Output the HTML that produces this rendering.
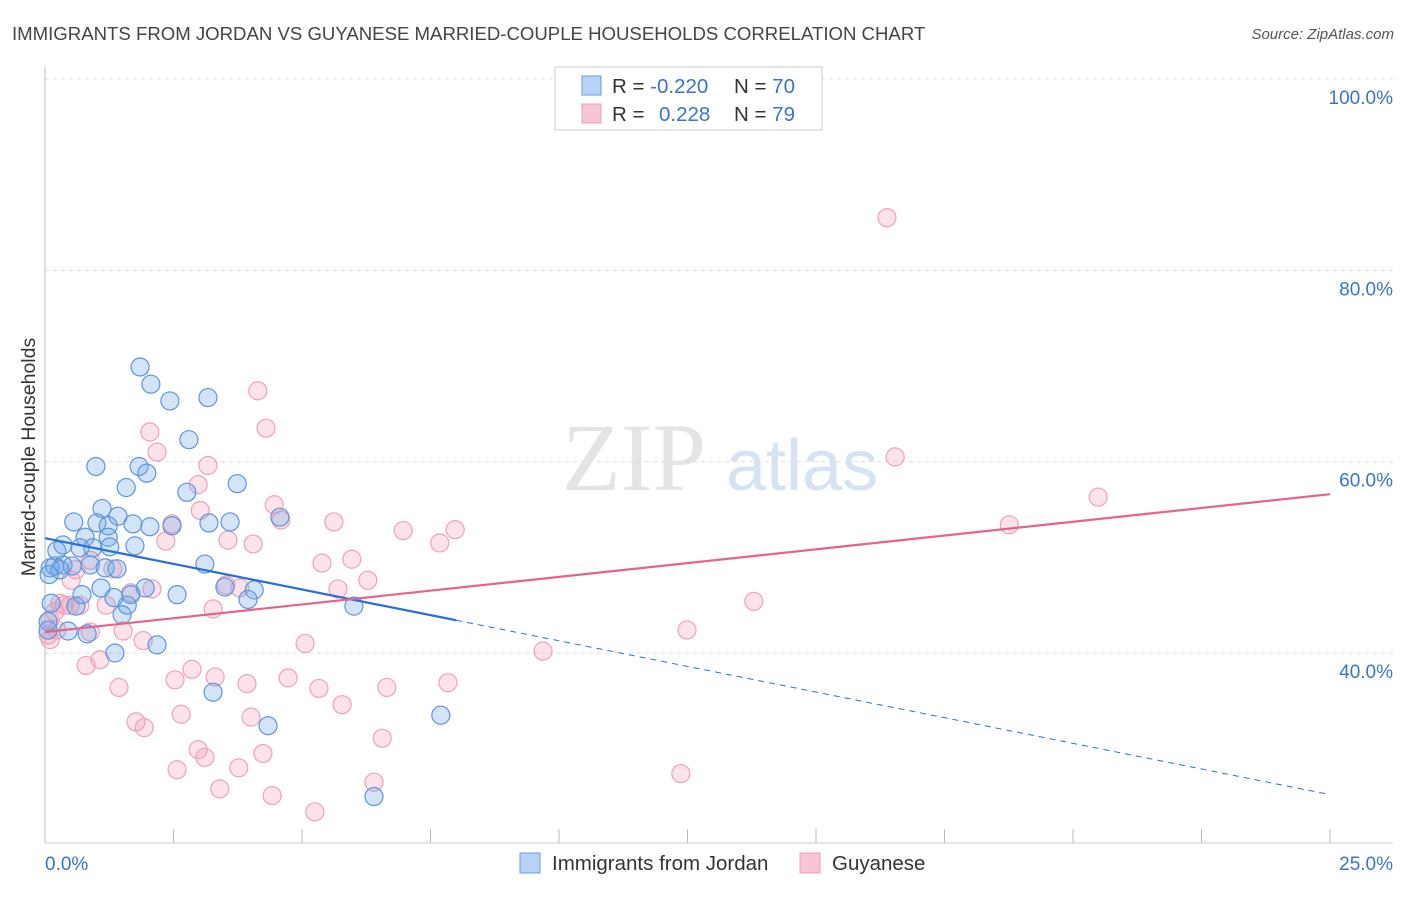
<!DOCTYPE html>
<html><head><meta charset="utf-8"><style>
body{margin:0;background:#fff;font-family:"Liberation Sans",sans-serif}
svg text{font-family:"Liberation Sans",sans-serif}
</style></head><body>
<svg id="chart" width="1406" height="892">
<text x="12" y="40" font-size="18.6" fill="#444">IMMIGRANTS FROM JORDAN VS GUYANESE MARRIED-COUPLE HOUSEHOLDS CORRELATION CHART</text>
<text x="1394" y="39" font-size="15" fill="#555" font-style="italic" text-anchor="end">Source: ZipAtlas.com</text>
<text x="634" y="490" font-size="96" fill="#e4e4e4" font-family="Liberation Serif" text-anchor="middle" style="font-family:'Liberation Serif',serif">ZIP</text>
<text x="802" y="490" font-size="72" fill="#d6e3f3" text-anchor="middle">atlas</text>
<g id="grid"></g>
<g id="axes"></g>
<g id="marks"></g>
<text x="35" y="457" font-size="19.5" fill="#333" text-anchor="middle" transform="rotate(-90 35 457)">Married-couple Households</text>
<g>
<rect x="555" y="67" width="267" height="63" fill="#fff" stroke="#ccc"/>
<rect x="582" y="76" width="19" height="19" fill="#b8d3f5" stroke="#6b9ee0"/>
<rect x="582" y="104" width="19" height="19" fill="#f8c5d5" stroke="#eba0b8"/>
<text x="612" y="93" font-size="20.5" fill="#333">R = <tspan fill="#3b73c9">-0.220</tspan><tspan x="734">N = </tspan><tspan fill="#3b73c9">70</tspan></text>
<text x="612" y="121" font-size="20.5" fill="#333">R = <tspan x="659" fill="#3b73c9">0.228</tspan><tspan x="734">N = </tspan><tspan fill="#3b73c9">79</tspan></text>
</g>
<g>
<rect x="520" y="853" width="20" height="20" fill="#b8d3f5" stroke="#6b9ee0"/>
<text x="552" y="870" font-size="20.5" fill="#333">Immigrants from Jordan</text>
<rect x="800" y="853" width="20" height="20" fill="#f8c5d5" stroke="#eba0b8"/>
<text x="832" y="870" font-size="20.5" fill="#333">Guyanese</text>
</g>
</svg>
<script>
const yTicks=[40,60,80,100];
const yTickLabels=["40.0%","60.0%","80.0%","100.0%"];
const xTickLabels=["0.0%","25.0%"];
const jordanX=[1.85,2.06,2.43,3.17,2.80,0.99,1.83,1.98,1.58,2.76,3.74,1.11,0.56,1.01,1.42,1.23,1.71,2.04,2.47,3.19,3.60,4.57,0.78,1.23,1.75,0.23,0.35,0.68,0.93,1.26,3.11,0.10,0.19,0.35,0.53,0.88,1.17,1.40,1.95,4.07,1.09,1.67,2.57,3.50,3.95,0.60,1.60,0.12,1.50,0.06,6.01,0.45,0.82,2.18,1.36,3.27,4.34,7.70,6.40,0.29,0.08,0.72,1.34,0.06];
const jordanY=[69.9,68.1,66.35,66.7,62.3,59.5,59.5,58.8,57.3,56.8,57.7,55.1,53.7,53.6,54.3,53.3,53.5,53.2,53.3,53.6,53.7,54.2,52.1,52.1,51.2,50.7,51.3,51.0,51.0,51.1,49.3,48.9,49.1,49.2,49.1,49.2,48.9,48.8,46.8,46.6,46.8,46.1,46.1,46.9,45.6,44.9,45.0,45.2,44.0,43.3,44.9,42.3,42.0,40.85,40.0,35.9,32.4,33.5,25.0,48.7,48.2,46.1,45.8,42.4];
const guyX=[16.38,4.14,4.30,2.04,2.18,3.17,16.54,20.49,18.76,4.46,4.59,3.56,4.05,5.62,6.97,7.98,7.68,5.97,5.39,6.28,5.70,3.02,2.47,2.35,1.32,0.88,0.60,2.98,0.51,0.49,0.68,0.29,1.19,1.67,2.08,3.27,3.52,13.79,12.49,9.69,5.06,3.79,0.88,1.52,1.91,0.19,1.07,0.80,1.44,2.86,2.53,3.31,3.93,4.73,5.33,6.65,7.84,1.77,1.93,2.65,4.01,5.78,6.56,2.98,3.11,4.24,2.57,3.77,3.40,4.42,6.40,5.25,12.37,0.10,0.06,0.10,0.23,0.37];
const guyY=[85.5,67.4,63.5,63.1,61.0,59.6,60.5,56.3,53.4,55.5,53.9,51.8,51.4,53.7,52.8,52.9,51.5,49.8,49.4,47.6,46.7,54.9,53.5,51.7,48.8,49.7,48.7,57.6,47.6,45.0,45.0,45.2,45.0,46.3,46.7,44.6,47.1,45.4,42.4,40.2,41.0,46.8,42.2,42.3,41.3,44.3,39.3,38.7,36.4,38.3,37.2,37.5,36.8,37.4,36.3,36.4,36.9,32.8,32.2,33.6,33.3,34.6,31.1,29.9,29.1,29.5,27.8,28.0,25.8,25.1,26.5,23.4,27.4,43.5,41.9,41.4,42.4,45.0];
const jordanTrend=[52.0,25.2];
const jordanSolidEnd=8.0;
const guyTrend=[42.2,56.6];

const NS="http://www.w3.org/2000/svg";
const X=v=>45+v/25*1285;
const Y=v=>79+(100-v)*9.567;
function mk(tag,attrs,parent){const e=document.createElementNS(NS,tag);for(const k in attrs)e.setAttribute(k,attrs[k]);parent.appendChild(e);return e;}
const grid=document.getElementById('grid'),axes=document.getElementById('axes'),marks=document.getElementById('marks');
yTicks.forEach((t,i)=>{
  const l=mk('line',{x1:45,x2:1393,y1:Y(t),y2:Y(t),stroke:'#ddd','stroke-dasharray':'4,4'},grid);
  
  
  const tx=mk('text',{x:1393,y:Y(t)+25,'font-size':19,fill:'#3b73c9','text-anchor':'end'},axes);
  tx.textContent=yTickLabels[i];
  
  
});
const ax=mk('line',{x1:45,x2:45,y1:67,y2:843,stroke:'#bbb'},axes);


const bx=mk('line',{x1:45,x2:1393,y1:843,y2:843,stroke:'#ccc'},axes);


for(let i=0;i<=10;i++){
  const t=mk('line',{x1:X(i*2.5),x2:X(i*2.5),y1:829,y2:843,stroke:'#bbb'},axes);
  
  
}
const xl0=mk('text',{x:45,y:870,'font-size':19,fill:'#3b73c9'},axes);
xl0.textContent=xTickLabels[0];


const xl1=mk('text',{x:1393,y:870,'font-size':19,fill:'#3b73c9','text-anchor':'end'},axes);
xl1.textContent=xTickLabels[1];



guyX.forEach((v,i)=>{
  const c=mk('circle',{cx:X(v),cy:Y(guyY[i]),r:9,fill:'rgba(244,160,188,0.3)',stroke:'#eca2bb','stroke-width':1.2},marks);
  
  
});
jordanX.forEach((v,i)=>{
  const c=mk('circle',{cx:X(v),cy:Y(jordanY[i]),r:9,fill:'rgba(110,165,230,0.3)',stroke:'#5d95dd','stroke-width':1.2},marks);
  
  
});
const jy=x=>jordanTrend[0]+(jordanTrend[1]-jordanTrend[0])*x/25;
const j1=mk('line',{x1:X(0),y1:Y(jy(0)),x2:X(jordanSolidEnd),y2:Y(jy(jordanSolidEnd)),stroke:'#2a6fd6','stroke-width':2.2},marks);


const j2=mk('line',{x1:X(jordanSolidEnd),y1:Y(jy(jordanSolidEnd)),x2:X(25),y2:Y(jy(25)),stroke:'#2a6fd6','stroke-width':1,'stroke-dasharray':'6,5'},marks);


const g1=mk('line',{x1:X(0),y1:Y(guyTrend[0]),x2:X(25),y2:Y(guyTrend[1]),stroke:'#e5638d','stroke-width':2.2},marks);


</script>
</body></html>
